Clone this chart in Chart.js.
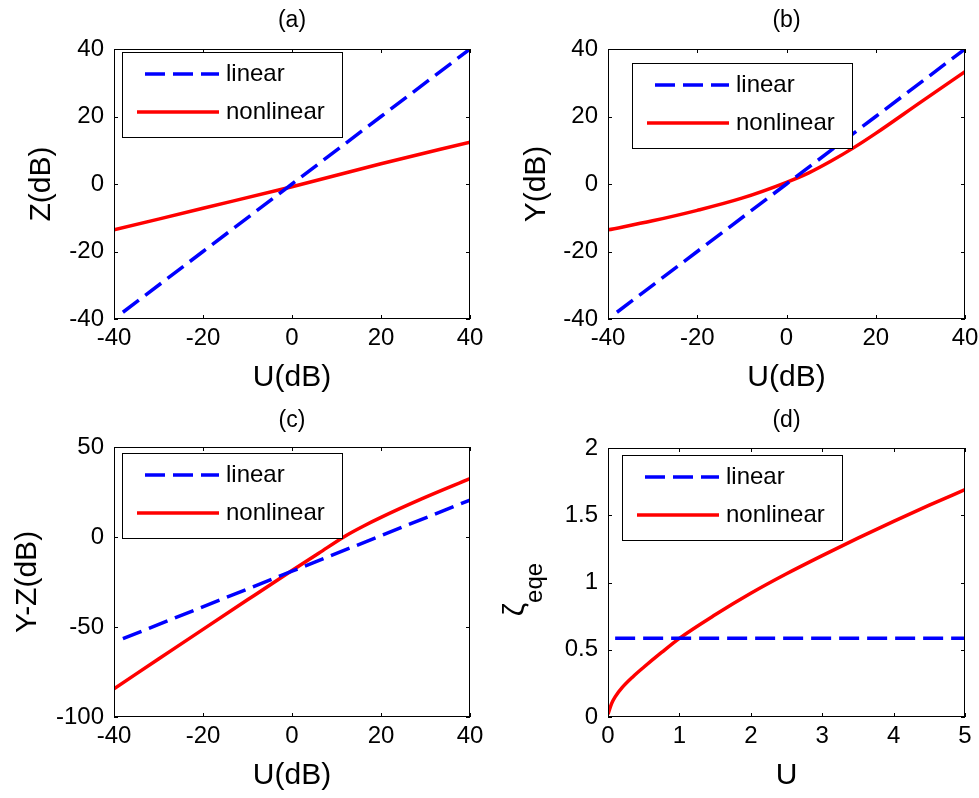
<!DOCTYPE html>
<html>
<head>
<meta charset="utf-8">
<script src="https://cdn.jsdelivr.net/npm/chart.js@4.4.0/dist/chart.umd.min.js"></script>
<style>
    body { margin: 0; background: #fff; width: 979px; height: 798px; position: relative; overflow: hidden; }
    canvas { position: absolute; }
</style>
</head>
<body>
<canvas id="chartA" width="490" height="400" style="left:0;top:0"></canvas>
<canvas id="chartB" width="489" height="400" style="left:490px;top:0"></canvas>
<canvas id="chartC" width="490" height="398" style="left:0;top:400px"></canvas>
<canvas id="chartD" width="489" height="398" style="left:490px;top:400px"></canvas>
<script>
// ==================== DATA ====================
const dbTicks = [-40, -20, 0, 20, 40];
const ymzTicks = [-100, -50, 0, 50];
const zetaTicks = [0, 0.5, 1, 1.5, 2];
const uTicks = [0, 1, 2, 3, 4, 5];

// (a) Z vs U
const uLinA = [-38, -20, 0, 20, 40];
const zLinear = [-38, -20, 0, 20, 40];
const uNonA = [-40, -20, 0, 20, 40];
const zNonlinear = [-13.6, -7.2, -0.8, 6.0, 12.4];

// (b) Y vs U
const uLinB = [-38, -20, 0, 20, 40];
const yLinear = [-38, -20, 0, 20, 40];
const uNonB = [-40, -30, -20, -10, 0, 5, 10, 15, 20, 30, 40];
const yNonlinear = [-13.6, -10.9, -7.8, -4.2, 0.5, 3.3, 6.8, 10.7, 15.0, 24.2, 33.3];

// (c) Y-Z vs U
const uLinC = [-38, 0, 40];
const ymzLinear = [-56.5, -19, 20.5];
const uNonC = [-40, -30, -20, -10, 0, 6, 12, 16, 20, 29, 40];
const ymzNonlinear = [-84.3, -67.8, -51.3, -34.9, -18.6, -9.0, 0.6, 6.0, 10.9, 21.0, 32.4];

// (d) zeta_eqe vs U
const uLinD = [0.1, 5];
const zetaLinear = [0.585, 0.585];
const uNonD = [0, 0.05, 0.1, 0.2, 0.35, 0.5, 0.75, 1, 1.5, 2, 2.5, 3, 3.5, 4, 4.5, 5];
const zetaNonlinear = [0.02, 0.1, 0.15, 0.22, 0.3, 0.37, 0.48, 0.585, 0.76, 0.92, 1.065, 1.2, 1.33, 1.455, 1.575, 1.69];

const FONT = '"Liberation Sans", Arial, sans-serif';
Chart.defaults.color = '#000';
Chart.defaults.font.family = FONT;

function pts(xs, ys) { return xs.map((x, i) => ({ x: x, y: ys[i] })); }

// ==================== DECORATION PLUGIN ====================
// box, inward ticks, legend, title, special y label
const panelDecor = {
    id: 'panelDecor',
    afterDatasetsDraw(chart, args, opts) {
        const { ctx, chartArea: a, scales: { x, y } } = chart;
        ctx.save();

        // axes box
        ctx.strokeStyle = '#000';
        ctx.lineWidth = 1;
        ctx.strokeRect(a.left + 0.5, a.top + 0.5, a.right - a.left - 1, a.bottom - a.top - 1);

        // inward tick marks on all four sides
        ctx.beginPath();
        x.ticks.forEach(t => {
            const px = Math.round(x.getPixelForValue(t.value)) + 0.5;
            ctx.moveTo(px, a.bottom); ctx.lineTo(px, a.bottom - 4);
            ctx.moveTo(px, a.top); ctx.lineTo(px, a.top + 4);
        });
        y.ticks.forEach(t => {
            const py = Math.round(y.getPixelForValue(t.value)) + 0.5;
            ctx.moveTo(a.left, py); ctx.lineTo(a.left + 4, py);
            ctx.moveTo(a.right, py); ctx.lineTo(a.right - 4, py);
        });
        ctx.stroke();

        // legend
        const lg = opts.legend;
        ctx.fillStyle = '#fff';
        ctx.fillRect(lg.x, lg.y, 220, 85);
        ctx.strokeRect(lg.x + 0.5, lg.y + 0.5, 220, 85);
        chart.data.datasets.forEach((ds, i) => {
            const ry = lg.y + 22 + i * 38;
            ctx.save();
            ctx.strokeStyle = ds.borderColor;
            ctx.lineWidth = ds.borderWidth;
            ctx.setLineDash(ds.borderDash || []);
            ctx.lineDashOffset = ds.borderDash ? 20 : 0;
            ctx.beginPath();
            ctx.moveTo(lg.x + 15, ry);
            ctx.lineTo(lg.x + 97, ry);
            ctx.stroke();
            ctx.restore();
            ctx.fillStyle = '#000';
            ctx.font = '24px ' + FONT;
            ctx.textBaseline = 'middle';
            ctx.textAlign = 'left';
            ctx.fillText(ds.label, lg.x + 104, ry);
        });

        // panel title
        ctx.fillStyle = '#000';
        ctx.font = '23px ' + FONT;
        ctx.textAlign = 'center';
        ctx.textBaseline = 'middle';
        ctx.fillText(opts.title, (a.left + a.right) / 2, 21);

        // zeta_eqe label
        if (opts.zeta) {
            ctx.translate(34, (a.top + a.bottom) / 2 + 7);
            ctx.rotate(-Math.PI / 2);
            ctx.textBaseline = 'alphabetic';
            ctx.textAlign = 'left';
            ctx.font = '30px ' + FONT;
            const wz = ctx.measureText('\u03b6').width;
            ctx.font = '24px ' + FONT;
            const ws = ctx.measureText('eqe').width;
            const x0 = -(wz + ws) / 2;
            ctx.font = '30px ' + FONT;
            ctx.fillText('\u03b6', x0, 0);
            ctx.font = '24px ' + FONT;
            ctx.fillText('eqe', x0 + wz, 18);
        }
        ctx.restore();
    }
};

// ==================== PANELS ====================
function makePanel(id, p) {
    new Chart(document.getElementById(id), {
        type: 'line',
        data: {
            datasets: [{
                label: 'linear',
                data: pts(p.linX, p.linY),
                borderColor: '#0000ff',
                borderWidth: 3.5,
                borderDash: [20, 8],
                pointRadius: 0,
                tension: 0
            }, {
                label: 'nonlinear',
                data: pts(p.nonX, p.nonY),
                borderColor: '#ff0000',
                borderWidth: 3.5,
                pointRadius: 0,
                cubicInterpolationMode: 'monotone'
            }]
        },
        options: {
            responsive: false,
            animation: false,
            layout: { padding: { top: p.top, right: p.right, left: 0, bottom: 0 } },
            plugins: {
                legend: { display: false },
                tooltip: { enabled: false },
                panelDecor: { title: p.title, legend: p.legend, zeta: !!p.zeta }
            },
            scales: {
                x: {
                    type: 'linear',
                    min: p.xTicks[0],
                    max: p.xTicks[p.xTicks.length - 1],
                    afterBuildTicks: s => { s.ticks = p.xTicks.map(v => ({ value: v })); },
                    afterFit: s => { s.height = 81; s.paddingLeft = 0; s.paddingRight = 0; },
                    grid: { display: false, drawTicks: false },
                    border: { display: false },
                    ticks: { padding: 5, maxRotation: 0, autoSkip: false, font: { size: 24 }, callback: v => String(v) },
                    title: { display: true, text: p.xLabel, font: { size: 30 }, padding: { top: 0, bottom: 4 } }
                },
                y: {
                    type: 'linear',
                    min: p.yTicks[0],
                    max: p.yTicks[p.yTicks.length - 1],
                    afterBuildTicks: s => { s.ticks = p.yTicks.map(v => ({ value: v })); },
                    afterFit: s => { s.width = p.left; s.paddingTop = 0; s.paddingBottom = 0; },
                    grid: { display: false, drawTicks: false },
                    border: { display: false },
                    ticks: { padding: 10, autoSkip: false, font: { size: 24 }, callback: v => String(v) },
                    title: { display: !p.zeta, text: p.yLabel, font: { size: 30 }, padding: { top: p.yLabelPad, bottom: 0 } }
                }
            }
        },
        plugins: [panelDecor]
    });
}

makePanel('chartA', {
    title: '(a)', top: 49, right: 20, left: 114,
    xTicks: dbTicks, yTicks: dbTicks, xLabel: 'U(dB)', yLabel: 'Z(dB)', yLabelPad: 24,
    linX: uLinA, linY: zLinear, nonX: uNonA, nonY: zNonlinear,
    legend: { x: 122, y: 52 }
});

makePanel('chartB', {
    title: '(b)', top: 49, right: 14, left: 118,
    xTicks: dbTicks, yTicks: dbTicks, xLabel: 'U(dB)', yLabel: 'Y(dB)', yLabelPad: 29,
    linX: uLinB, linY: yLinear, nonX: uNonB, nonY: yNonlinear,
    legend: { x: 142, y: 63 }
});

makePanel('chartC', {
    title: '(c)', top: 47, right: 20, left: 114,
    xTicks: dbTicks, yTicks: ymzTicks, xLabel: 'U(dB)', yLabel: 'Y-Z(dB)', yLabelPad: 10,
    linX: uLinC, linY: ymzLinear, nonX: uNonC, nonY: ymzNonlinear,
    legend: { x: 122, y: 53 }
});

makePanel('chartD', {
    title: '(d)', top: 48, right: 14, left: 118,
    xTicks: uTicks, yTicks: zetaTicks, xLabel: 'U', yLabel: '', yLabelPad: 0, zeta: true,
    linX: uLinD, linY: zetaLinear, nonX: uNonD, nonY: zetaNonlinear,
    legend: { x: 132, y: 55 }
});
</script>
</body>
</html>
